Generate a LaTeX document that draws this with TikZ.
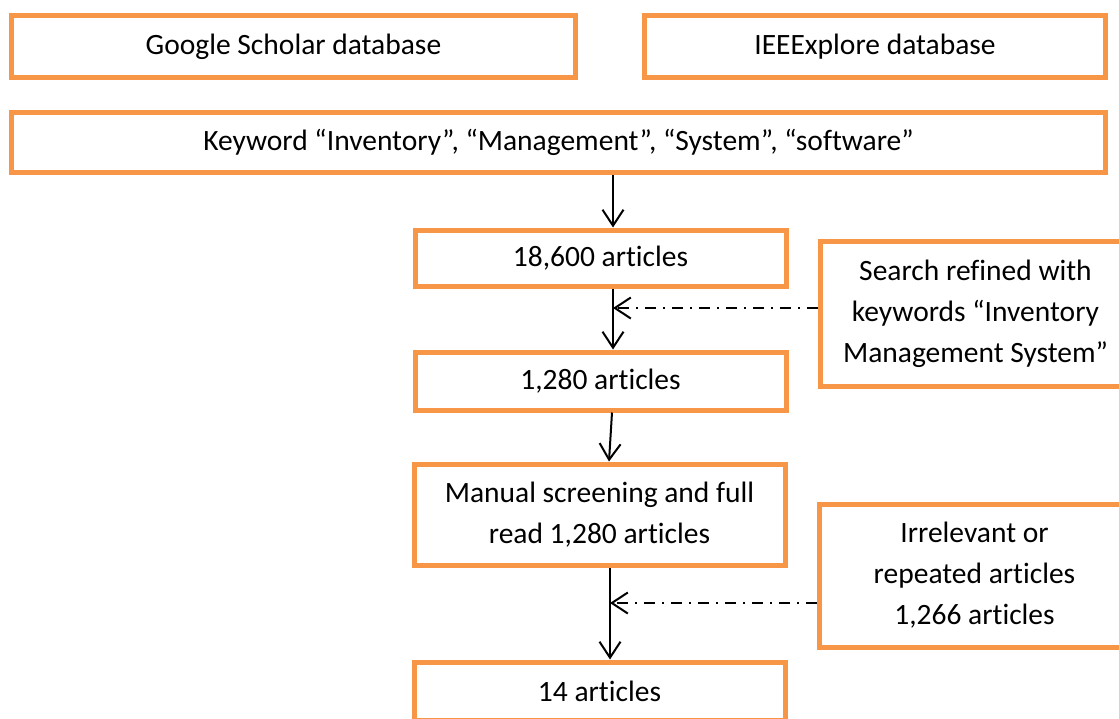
\documentclass[tikz,border=0pt]{standalone}
\usepackage{fontspec}
\setmainfont{Carlito}[Ligatures=NoCommon]
\usetikzlibrary{arrows.meta}
\definecolor{boxorange}{HTML}{F79646}
\newcommand\dnline[1]{\raisebox{-2.5pt}{#1}}
\begin{document}
\begin{tikzpicture}[x=1pt,y=-1pt,
  box/.style={draw=boxorange, line width=5pt, rectangle, inner sep=0pt, align=center,
    font=\fontsize{29.5}{41}\selectfont},
  arr/.style={draw=black, line width=2pt, -{Straight Barb[length=16pt,width=21pt,line width=2pt]}},
  dasharr/.style={arr, dash pattern=on 11pt off 7pt on 2pt off 7pt}]
\useasboundingbox (0,0) rectangle (1119,718);
\clip (0,0) rectangle (1119,718);
\node[box, minimum width=564.5pt, minimum height=62.5pt] (gs) at (293.5,46.5) {\dnline{Google Scholar database}};
\node[box, minimum width=461.5pt, minimum height=62.5pt] (ie) at (875,46.5) {\dnline{IEEExplore database}};
\node[box, minimum width=1094.5pt, minimum height=60.5pt] (kw) at (558.5,142.5) {\dnline{Keyword “Inventory”, “Management”, “System”, “software”}};
\node[box, minimum width=371pt, minimum height=56pt] (n1) at (600.5,258) {\dnline{18,600 articles}};
\node[box, minimum width=371pt, minimum height=58pt] (n2) at (600.5,381) {\dnline{1,280 articles}};
\node[box, minimum width=371pt, minimum height=101pt] (n3) at (599.5,514.5) {Manual screening and full\\read 1,280 articles};
\node[box, minimum width=371pt, minimum height=58pt] (n4) at (599.5,691) {\dnline{14 articles}};
\node[box, minimum width=311pt, minimum height=145pt] (sr) at (975.5,313.5) {Search refined with\\keywords “Inventory\\Management System”};
\node[box, minimum width=311pt, minimum height=143pt] (ir) at (974.5,575.5) {Irrelevant or\\repeated articles\\1,266 articles};
\coordinate (a1) at (613,0);
\coordinate (a3) at (612,0);
\coordinate (a3b) at (609,0);
\coordinate (a4) at (610,0);
\coordinate (d1) at (613,308);
\coordinate (d2) at (610,603);
\draw[arr] (kw.south -| a1) -- (n1.north -| a1);
\draw[arr] (n1.south -| a1) -- (n2.north -| a1);
\draw[arr] (n2.south -| a3) -- (n3.north -| a3b);
\draw[arr] (n3.south -| a4) -- (n4.north -| a4);
\draw[dasharr] (sr.west |- d1) -- (d1);
\draw[dasharr] (ir.west |- d2) -- (d2);
\end{tikzpicture}
\end{document}
